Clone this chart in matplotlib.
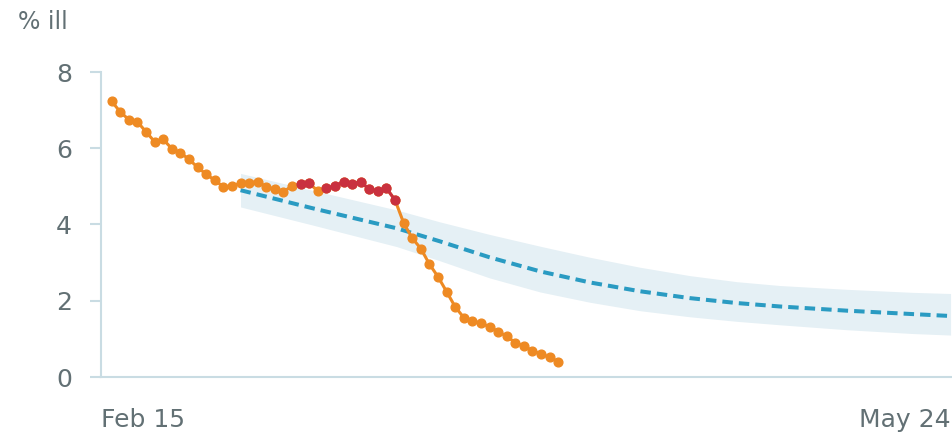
import numpy as np
import matplotlib.pyplot as plt

plt.rcParams['font.family'] = ['DejaVu Sans']

# observed daily values (% ill), day 1 = first dot
obs_days = np.arange(1, 54)
obs_vals = [7.23, 6.95, 6.75, 6.69, 6.43, 6.17, 6.23, 5.99, 5.88, 5.71,
            5.50, 5.32, 5.16, 4.99, 5.01, 5.08, 5.10, 5.12, 4.99, 4.92,
            4.86, 5.01, 5.06, 5.08, 4.88, 4.95, 5.01, 5.12, 5.06, 5.12,
            4.92, 4.88, 4.95, 4.64, 4.04, 3.64, 3.37, 2.96, 2.63, 2.24,
            1.84, 1.56, 1.47, 1.41, 1.32, 1.19, 1.07, 0.90, 0.81, 0.69,
            0.60, 0.52, 0.40]
# days flagged red
red_days = [23, 24, 26, 27, 28, 29, 30, 31, 32, 33, 34]

# forecast and its band
fc_days = [16, 24.5, 34.2, 39.2, 45.0, 50.9, 56.7, 62.5, 68.3, 73.8,
           78.8, 86.6, 94.3, 98.7]
fc_mid = [4.90, 4.42, 3.90, 3.56, 3.14, 2.77, 2.48, 2.25, 2.07, 1.94,
          1.85, 1.74, 1.65, 1.60]
fc_hi = [5.34, 4.89, 4.38, 4.07, 3.74, 3.43, 3.14, 2.88, 2.66, 2.50,
         2.40, 2.30, 2.22, 2.19]
fc_lo = [4.46, 3.98, 3.42, 3.05, 2.60, 2.23, 1.96, 1.74, 1.58, 1.46,
         1.37, 1.24, 1.14, 1.10]

x_labels = ["Feb 15", "May 24"]

orange = "#EE8A23"
red = "#C9313F"
blue = "#2A9BC2"
band = "#E5F0F5"
axis_col = "#C9DCE3"
text_col = "#627074"

fig = plt.figure(figsize=(9.53, 4.36), dpi=100)
ax = fig.add_axes([101 / 953, 59 / 436, 850 / 953, 305 / 436])

ax.fill_between(fc_days, fc_lo, fc_hi, color=band, lw=0, zorder=1)
ax.plot(fc_days, fc_mid, color=blue, lw=2.9, dashes=(2.6, 1.5), zorder=2)

ax.plot(obs_days, obs_vals, color=orange, lw=2.2, marker='o', ms=6.3,
        zorder=3)
red_vals = np.array([v if d in red_days else np.nan
                     for d, v in zip(obs_days, obs_vals)])
ax.plot(obs_days, red_vals, color=red, lw=2.2, marker='o', ms=6.3, zorder=4)

ax.set_xlim(-0.25, 98.75)
ax.set_ylim(0, 8)
ax.set_yticks([0, 2, 4, 6, 8])
ax.set_xticks([-0.25, 98.75])
ax.set_xticklabels(x_labels)
xl = ax.get_xticklabels()
xl[0].set_ha('left')
xl[1].set_ha('right')

for s in ['top', 'right']:
    ax.spines[s].set_visible(False)
for s in ['left', 'bottom']:
    ax.spines[s].set_color(axis_col)
    ax.spines[s].set_linewidth(1.5)

ax.tick_params(axis='y', length=8, width=1.5, color=axis_col, pad=13,
               labelsize=18, labelcolor=text_col)
ax.tick_params(axis='x', length=0, pad=22, labelsize=18, labelcolor=text_col)

fig.text(18 / 953, 1 - 22 / 436, "% ill", fontsize=17, color=text_col,
         va='center', ha='left')

fig.savefig("out.png", dpi=100)
